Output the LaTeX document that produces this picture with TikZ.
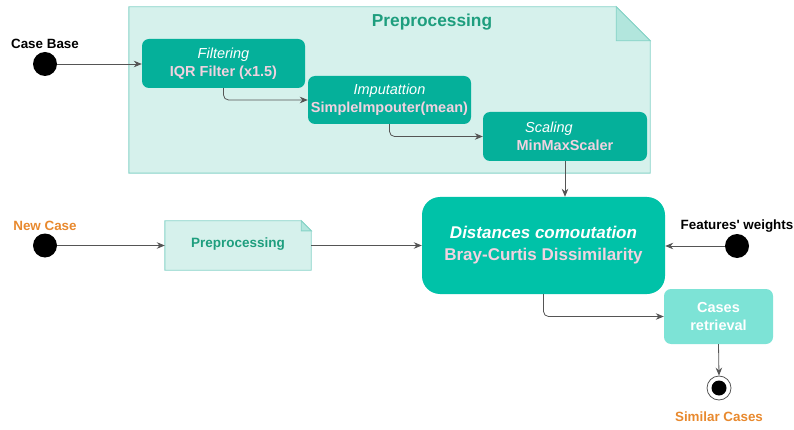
\documentclass[tikz,border=0pt]{standalone}
\usepackage{fontspec}
\setmainfont{Liberation Sans}[Ligatures=TeXOff]
\usetikzlibrary{arrows.meta,calc}

\definecolor{notefill}{HTML}{D6F1EC}
\definecolor{noteedge}{HTML}{86D3C7}
\definecolor{foldfill}{HTML}{B2E6DD}
\definecolor{stagefill}{HTML}{05B09A}
\definecolor{mainfill}{HTML}{00C2A8}
\definecolor{lightfill}{HTML}{7DE3D6}
\definecolor{pinktext}{HTML}{F2D2E0}
\definecolor{tealtext}{HTML}{1E9E7E}
\definecolor{orangetext}{HTML}{E8892E}
\definecolor{linegray}{HTML}{555555}

\tikzset{
  stagebox/.style={rectangle, rounded corners=7pt, fill=stagefill, inner sep=0pt,
    align=center, text=white, font=\fontsize{14.5}{18}\selectfont},
  mainbox/.style={rectangle, rounded corners=18pt, fill=mainfill, inner sep=0pt,
    align=center, text=white, font=\fontsize{17}{22}\selectfont},
  lightbox/.style={rectangle, rounded corners=7pt, fill=lightfill, inner sep=0pt,
    align=center, text=white, font=\bfseries\fontsize{14.5}{18}\selectfont},
  startdot/.style={circle, fill=black, minimum size=24pt, inner sep=0pt},
  enddot/.style={circle, draw=linegray, line width=0.8pt, fill=white, minimum size=24pt, inner sep=0pt},
  caption/.style={font=\bfseries\fontsize{13.4}{16}\selectfont, inner sep=0pt},
  flow/.style={draw=linegray, line width=0.8pt, -{Stealth[length=8pt,width=6.5pt]}},
  notebody/.style={fill=notefill, draw=noteedge, line width=0.9pt, line join=miter},
  notefold/.style={fill=foldfill, draw=noteedge, line width=0.9pt},
}

\begin{document}
\begin{tikzpicture}[x=1pt,y=-1pt]
\useasboundingbox (0,0) rectangle (794,430);

% preprocessing container (note with folded corner)
\node[rectangle, minimum width=521pt, minimum height=166pt, inner sep=0pt] (big) at (389.5,90) {};
\path[notebody] (big.north west) -- ($(big.north east)+(-34,0)$) -- ($(big.north east)+(0,34)$)
  -- (big.south east) -- (big.south west) -- cycle;
\path[notefold] ($(big.north east)+(-34,0)$) -- ($(big.north east)+(-34,34)$) -- ($(big.north east)+(0,34)$) -- cycle;
\node[font=\bfseries\fontsize{17.3}{20}\selectfont, text=tealtext] (bigtitle) at (432,22) {Preprocessing};

% preprocessing stages
\node[stagebox, minimum width=163pt, minimum height=49pt] (filt) at (223.5,63.5)
  {\textit{Filtering}\\\textbf{\color{pinktext}IQR Filter (x1.5)}};
\node[stagebox, minimum width=163pt, minimum height=48pt] (imp) at (389.5,100)
  {\textit{Imputattion}\\\textbf{\color{pinktext}SimpleImpouter(mean)}};
\node[stagebox, minimum width=164pt, minimum height=49pt] (scal) at (565,136.5)
  {\hspace*{-32pt}\textit{Scaling}\\\textbf{\color{pinktext}MinMaxScaler}};

% case base input
\node[startdot] (cb) at (45,64) {};
\node[caption] (cblabel) at (45,44) {Case Base};

% new case input and its preprocessing note
\node[startdot] (nc) at (45,245.5) {};
\node[caption, text=orangetext] (nclabel) at (45,226) {New Case};
\node[rectangle, minimum width=146pt, minimum height=49pt, inner sep=0pt] (note2) at (238,245.5) {};
\path[notebody] (note2.north west) -- ($(note2.north east)+(-10,0)$) -- ($(note2.north east)+(0,10)$)
  -- (note2.south east) -- (note2.south west) -- cycle;
\path[notefold] ($(note2.north east)+(-10,0)$) -- ($(note2.north east)+(-10,10)$) -- ($(note2.north east)+(0,10)$) -- cycle;
\node[font=\bfseries\fontsize{13.5}{16}\selectfont, text=tealtext] (note2text) at (238,244) {Preprocessing};

% distance computation
\node[mainbox, minimum width=243pt, minimum height=97pt] (dist) at (543.5,245.5)
  {\textbf{\textit{Distances comoutation}}\\\textbf{\color{pinktext}Bray-Curtis Dissimilarity}};

% feature weights input
\node[startdot] (fw) at (737,246) {};
\node[caption] (fwlabel) at (737,226) {Features' weights};

% retrieval and final state
\node[lightbox, minimum width=109pt, minimum height=55pt] (cr) at (718.5,316.5) {Cases\\retrieval};
\node[enddot] (endc) at (719,388) {};
\fill[black] (endc.center) circle (7.5pt);
\node[caption, text=orangetext] (endlabel) at (719,417) {Similar Cases};

% connectors
\draw[flow] (cb.east) -- (cb.east -| filt.west);
\draw[flow, rounded corners=5pt] (filt.south) |- (imp.west);
\draw[flow, rounded corners=5pt] (imp.south) |- (scal.west);
\draw[flow] (scal.south) -- (scal.south |- dist.north);
\draw[flow] (nc.east) -- (nc.east -| note2.west);
\draw[flow] (note2.east) -- (note2.east -| dist.west);
\draw[flow] (fw.west) -- (fw.west -| dist.east);
\draw[flow, rounded corners=5pt] (dist.south) |- (cr.west);
\draw[flow] (cr.south) -- (endc.north);
\end{tikzpicture}
\end{document}
